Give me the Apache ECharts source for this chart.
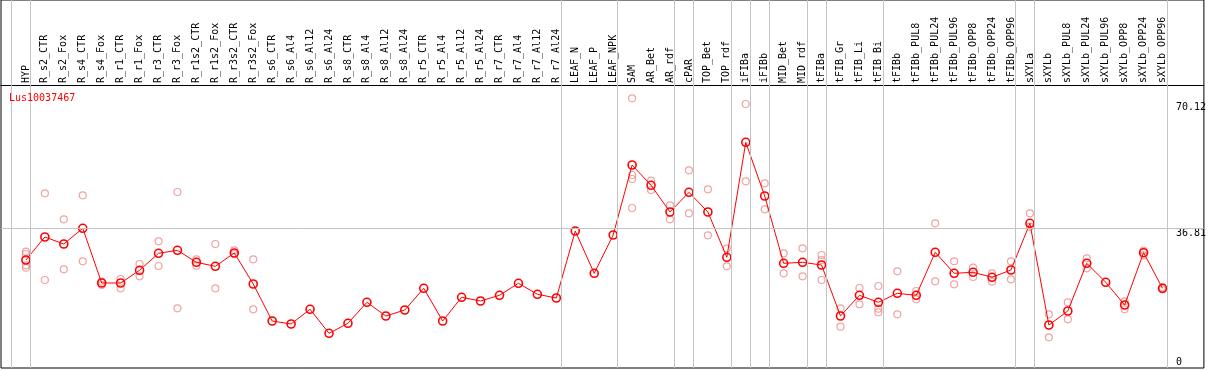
<!DOCTYPE html>
<html><head><meta charset="utf-8">
<script src="https://cdn.jsdelivr.net/npm/echarts@6/dist/echarts.min.js"></script>
<style>html,body{margin:0;padding:0;background:#fff}#c{width:1209px;height:370px}</style>
</head><body><div id="c"></div>
<script>
const geneId = 'Lus10037467';
const categories = ['HYP','R_s2_CTR','R_s2_Fox','R_s4_CTR','R_s4_Fox','R_r1_CTR','R_r1_Fox','R_r3_CTR','R_r3_Fox',
  'R_r1s2_CTR','R_r1s2_Fox','R_r3s2_CTR','R_r3s2_Fox','R_s6_CTR','R_s6_Al4','R_s6_Al12','R_s6_Al24','R_s8_CTR',
  'R_s8_Al4','R_s8_Al12','R_s8_Al24','R_r5_CTR','R_r5_Al4','R_r5_Al12','R_r5_Al24','R_r7_CTR','R_r7_Al4','R_r7_Al12',
  'R_r7_Al24','LEAF_N','LEAF_P','LEAF_NPK','SAM','AR_Bet','AR_rdf','cPAR','TOP_Bet','TOP_rdf','iFIBa','iFIBb',
  'MID_Bet','MID_rdf','tFIBa','tFIB_Gr','tFIB_Li','tFIB_Bi','tFIBb','tFIBb_PUL8','tFIBb_PUL24','tFIBb_PUL96',
  'tFIBb_OPP8','tFIBb_OPP24','tFIBb_OPP96','sXYLa','sXYLb','sXYLb_PUL8','sXYLb_PUL24','sXYLb_PUL96','sXYLb_OPP8',
  'sXYLb_OPP24','sXYLb_OPP96'];
const meanValues = [28.40,34.50,32.64,36.81,22.30,22.30,25.67,30.18,30.97,27.79,26.73,30.26,22.04,12.22,11.43,15.33,
  8.96,11.61,17.18,13.55,15.14,20.90,12.22,18.51,17.53,19.04,22.22,19.31,18.32,36.09,24.87,35.03,53.59,48.21,41.13,
  46.35,41.13,29.12,59.61,45.37,27.53,27.79,27.07,13.55,19.04,17.18,19.57,19.04,30.44,24.87,25.14,23.81,25.75,38.13,
  11.16,14.88,27.53,22.49,16.47,30.34,20.90];
const replicateValues = [
  [30.60,29.99,27.00,26.36],[46.09,23.10],[39.19,25.94],[45.56,28.06],[22.65,21.77],[23.36,20.90],[27.34,24.08],
  [33.36,26.81],[46.43,15.59],[28.59,26.89],[32.64,20.90],[30.97,29.99],[28.59,15.33],
  [],[],[],[],[],[],[],[],[],[],[],[],[],[],[],[],[],[],[],
  [71.28,50.94,49.88,42.19],[49.43,46.96],[42.91,39.19],[52.19,40.78],[47.15,34.95],[31.50,26.73],[69.77,49.27],
  [48.74,41.85],[30.18,24.87],[31.50,24.08],[29.73,28.40,23.10],[15.59,10.71],[20.98,16.65],[21.51,15.49,14.53],
  [25.40,14.00],[20.18,17.98],[38.13,22.75],[28.06,21.96],[26.36,23.89],[24.87,22.65],[28.06,23.28],[40.78,37.23],
  [14.00,7.90],[17.18,12.68],[28.85,26.20],[],[17.45,15.33],[30.87,29.65],[21.16,20.63]
];
const yTickLabels = [0, 36.81, 70.12];
const referenceValue = 36.81;
const groupEnds = [-1, 0, 28, 31, 34, 35, 37, 38, 39, 41, 42, 45, 52, 53, 60];

const FONT = 'DejaVu Sans Mono';
const GRAY = '#c4c4c4';
const xMin = -1.3152, xMax = 62.184;
const yMin = -0.24, yMax = 97.35;

const lineData = meanValues.map((v, i) => [i, v]);
const repData = [];
replicateValues.forEach((arr, i) => arr.forEach(v => repData.push([i, v])));
const sepLines = groupEnds.map(g => ({ xAxis: g + 0.24 }));
sepLines.push({ yAxis: referenceValue });

const yAxisBase = {
  type: 'value', position: 'right', min: yMin, max: yMax,
  axisLine: { show: false }, axisTick: { show: false }, splitLine: { show: false }
};
const chart = echarts.init(document.getElementById('c'), null, { renderer: 'canvas' });
chart.setOption({
  animation: false,
  backgroundColor: '#fff',
  title: {
    text: geneId, left: 4, top: 88,
    textStyle: { color: '#ff0000', fontSize: 10, fontWeight: 'normal', fontFamily: FONT }
  },
  grid: { left: 1, top: 0, width: 1207, height: 368, show: true, borderColor: '#000', borderWidth: 1, backgroundColor: 'transparent' },
  xAxis: {
    type: 'value', min: xMin, max: xMax, position: 'bottom', offset: -283,
    axisLine: { show: true, onZero: false, lineStyle: { color: '#000', width: 1 } },
    axisTick: { show: false }, splitLine: { show: false },
    axisLabel: {
      inside: true, rotate: 90, margin: 2, color: '#000', fontFamily: FONT, fontSize: 10,
      customValues: categories.map((c, i) => i),
      formatter: v => categories[Math.round(v)]
    }
  },
  yAxis: [
    Object.assign({}, yAxisBase, {
      axisLabel: { inside: true, align: 'left', margin: 28, verticalAlign: 'top', lineHeight: 10,
        color: '#000', fontFamily: FONT, fontSize: 10, customValues: yTickLabels.filter(v => v !== 0) }
    }),
    Object.assign({}, yAxisBase, {
      axisLabel: { inside: true, align: 'left', margin: 28, verticalAlign: 'bottom', lineHeight: 10,
        color: '#000', fontFamily: FONT, fontSize: 10, customValues: yTickLabels.filter(v => v === 0) }
    })
  ],
  series: [
    {
      type: 'scatter', data: repData, symbol: 'circle', symbolSize: 7, z: 2,
      itemStyle: { color: 'rgba(0,0,0,0)', borderColor: '#ec8c8c', borderWidth: 1.2 },
      emphasis: { disabled: true }, silent: true,
      markLine: {
        silent: true, symbol: ['none', 'none'], label: { show: false },
        lineStyle: { color: GRAY, type: 'solid', width: 1 },
        data: sepLines, animation: false
      }
    },
    {
      type: 'line', data: lineData, symbol: 'circle', symbolSize: 8, z: 3,
      lineStyle: { color: '#ff0000', width: 1 },
      itemStyle: { color: 'rgba(0,0,0,0)', borderColor: '#ff0000', borderWidth: 1.6 },
      emphasis: { disabled: true }, silent: true
    }
  ]
});
</script></body></html>
